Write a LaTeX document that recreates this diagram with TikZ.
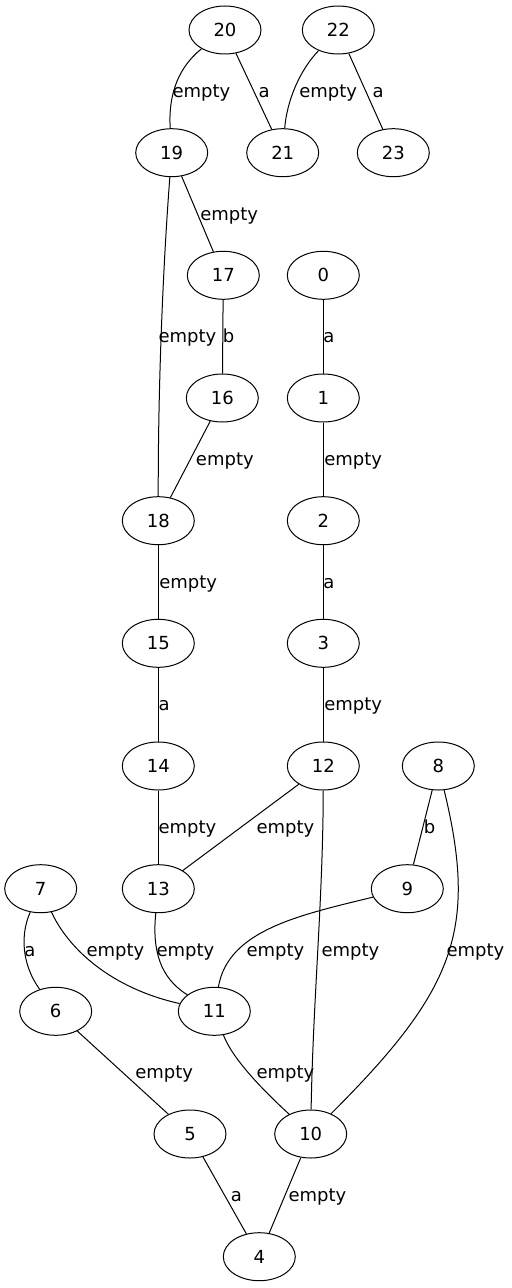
\documentclass[tikz,border=0pt]{standalone}
\usepackage{fontspec}
\setmainfont{DejaVu Sans}
\usetikzlibrary{shapes.geometric}
\begin{document}
\begin{tikzpicture}[x=0.75pt,y=-0.75pt,
  st/.style={ellipse,draw,line width=0.75pt,minimum width=54pt,minimum height=36pt,inner sep=0pt,font=\fontsize{13.5pt}{16pt}\selectfont},
  lbl/.style={anchor=base west,inner sep=0pt,font=\fontsize{13.5pt}{16pt}\selectfont},
  edge/.style={line width=0.75pt}]
\useasboundingbox (0,0) rectangle (511,1288);
% ranks
\def\ra{30}\def\rb{152.7}\def\rc{275.3}\def\rd{398}\def\re{520.7}\def\rf{643.3}
\def\rg{766}\def\rh{888.7}\def\ri{1011.3}\def\rj{1134}\def\rk{1256.7}
\node[st] (n20) at (225,\ra) {20};
\node[st] (n22) at (338.3,\ra) {22};
\node[st] (n19) at (171.7,\rb) {19};
\node[st] (n21) at (282.7,\rb) {21};
\node[st] (n23) at (393.3,\rb) {23};
\node[st] (n17) at (223.3,\rc) {17};
\node[st] (n0) at (323.3,\rc) {0};
\node[st] (n16) at (222.3,\rd) {16};
\node[st] (n1) at (323.3,\rd) {1};
\node[st] (n18) at (158.3,\re) {18};
\node[st] (n2) at (323.3,\re) {2};
\node[st] (n15) at (158.3,\rf) {15};
\node[st] (n3) at (323.3,\rf) {3};
\node[st] (n14) at (158.3,\rg) {14};
\node[st] (n12) at (323.3,\rg) {12};
\node[st] (n8) at (438.3,\rg) {8};
\node[st] (n7) at (40.7,\rh) {7};
\node[st] (n13) at (158.3,\rh) {13};
\node[st] (n9) at (407.3,\rh) {9};
\node[st] (n6) at (55.7,\ri) {6};
\node[st] (n11) at (214.3,\ri) {11};
\node[st] (n5) at (190,\rj) {5};
\node[st] (n10) at (310.7,\rj) {10};
\node[st] (n4) at (259.3,\rk) {4};
% edges
\draw[edge] (n20) .. controls (180,66) and (168,92) .. (n19);
\draw[edge] (n20) -- (n21);
\draw[edge] (n22) .. controls (300,70) and (287,100) .. (n21);
\draw[edge] (n22) -- (n23);
\draw[edge] (n19) -- (n17);
\draw[edge] (n19) .. controls (162,280) and (158,400) .. (n18);
\draw[edge] (n17) -- (n16);
\draw[edge] (n0) -- (n1);
\draw[edge] (n16) -- (n18);
\draw[edge] (n1) -- (n2);
\draw[edge] (n18) -- (n15);
\draw[edge] (n2) -- (n3);
\draw[edge] (n15) -- (n14);
\draw[edge] (n3) -- (n12);
\draw[edge] (n14) -- (n13);
\draw[edge] (n12) -- (n13);
\draw[edge] (n8) -- (n9);
\draw[edge] (n7) .. controls (20,935) and (22,965) .. (n6);
\draw[edge] (n7) .. controls (68,948) and (110,988) .. (n11);
\draw[edge] (n13) .. controls (152,950) and (160,978) .. (n11);
\draw[edge] (n9) .. controls (300,915) and (228,930) .. (n11);
\draw[edge] (n12) .. controls (323,900) and (313,1000) .. (n10);
\draw[edge] (n8) .. controls (478,930) and (455,990) .. (n10);
\draw[edge] (n6) -- (n5);
\draw[edge] (n11) .. controls (233,1060) and (265,1092) .. (n10);
\draw[edge] (n5) -- (n4);
\draw[edge] (n10) -- (n4);
% labels
\def\la{97.5}\def\lb{220.2}\def\lc{342.8}\def\ld{465.5}\def\le{588.2}
\def\lf{710.8}\def\lg{833.5}\def\lh{956.2}\def\li{1078.8}\def\lj{1201.5}
\node[lbl] (l1) at (172.3,\la) {empty};
\node[lbl] (l2) at (258.3,\la) {a};
\node[lbl] (l3) at (299,\la) {empty};
\node[lbl] (l4) at (372.3,\la) {a};
\node[lbl] (l5) at (200,\lb) {empty};
\node[lbl] (l6) at (158.3,\lc) {empty};
\node[lbl] (l7) at (222.5,\lc) {b};
\node[lbl] (l8) at (323,\lc) {a};
\node[lbl] (l9) at (195.7,\ld) {empty};
\node[lbl] (l10) at (324,\ld) {empty};
\node[lbl] (l11) at (159,\le) {empty};
\node[lbl] (l12) at (323,\le) {a};
\node[lbl] (l13) at (158.3,\lf) {a};
\node[lbl] (l14) at (324,\lf) {empty};
\node[lbl] (l15) at (158.3,\lg) {empty};
\node[lbl] (l16) at (256.3,\lg) {empty};
\node[lbl] (l17) at (423.5,\lg) {b};
\node[lbl] (l18) at (24,\lh) {a};
\node[lbl] (l19) at (86.3,\lh) {empty};
\node[lbl] (l20) at (156.3,\lh) {empty};
\node[lbl] (l21) at (246.3,\lh) {empty};
\node[lbl] (l22) at (321.3,\lh) {empty};
\node[lbl] (l23) at (446.3,\lh) {empty};
\node[lbl] (l24) at (135,\li) {empty};
\node[lbl] (l25) at (256.3,\li) {empty};
\node[lbl] (l26) at (230.7,\lj) {a};
\node[lbl] (l27) at (288.3,\lj) {empty};
\end{tikzpicture}
\end{document}
